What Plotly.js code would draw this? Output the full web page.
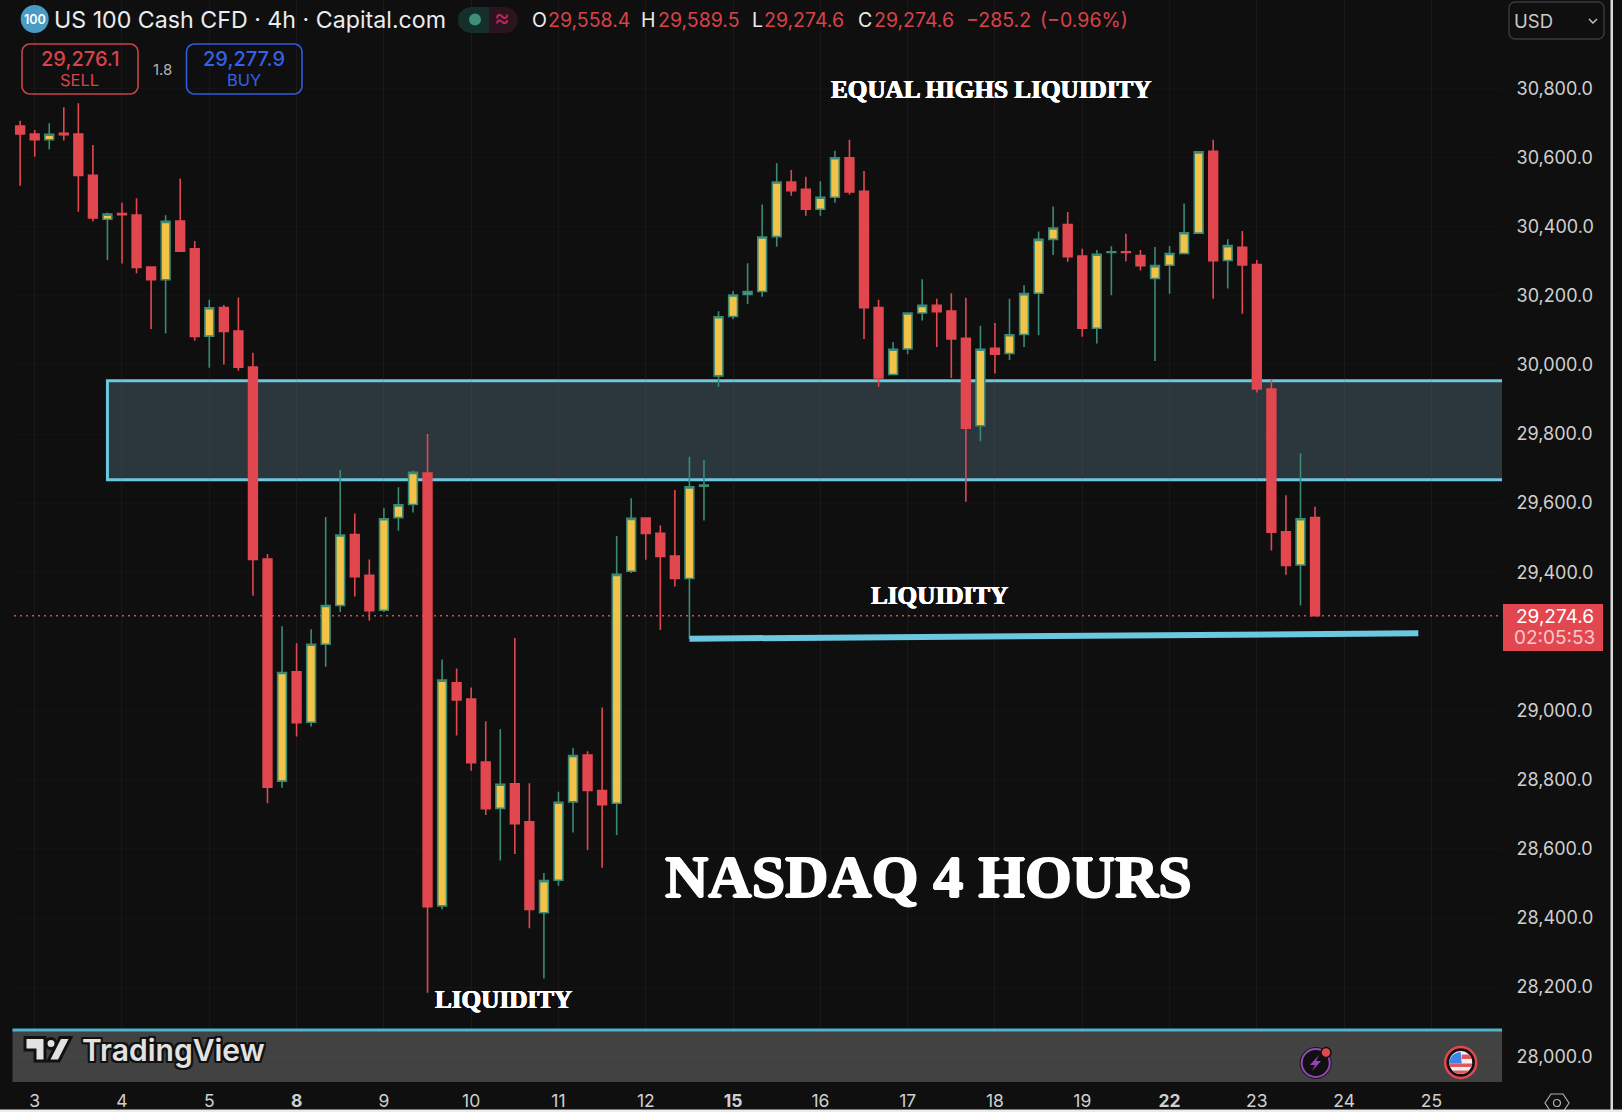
<!DOCTYPE html>
<html><head><meta charset="utf-8">
<script src="https://cdn.plot.ly/plotly-3.0.1.min.js"></script>
<style>html,body{margin:0;padding:0;background:#0f0f10;overflow:hidden}#chart{width:1622px;height:1112px}</style>
</head><body><div id="chart"></div>
<script>
// ---- chart values ----
var opens = [30691,30668,30651,30670,30668,30548,30421,30438,30433,30283,30246,30416,30336,30083,30166,30098,29994,29438,28796,29112,28966,29192,29304,29509,29391,29290,29558,29596,29687,28435,29080,29033,28851,28717,28788,28678,28415,28509,28736,28871,28769,28732,29403,29557,29513,29447,29382,29649,29968,30140,30204,30212,30371,30529,30508,30450,30485,30599,30502,30166,29972,30046,30150,30172,30156,30077,29824,30048,30033,30088,30207,30363,30406,30315,30106,30325,30327,30316,30250,30288,30322,30381,30618,30302,30340,30290,29930,29517,29421,29558.4];
var highs = [30706,30679,30699,30745,30757,30636,30441,30469,30482,30285,30433,30539,30358,30188,30173,30195,30035,29453,29244,29195,29235,29560,29696,29570,29437,29586,29646,29694,29800,29148,29122,29067,28969,28946,29210,28790,28530,28765,28892,28882,29009,29505,29614,29559,29535,29638,29734,29725,30155,30214,30294,30464,30583,30564,30544,30531,30619,30651,30561,30188,30066,30152,30248,30191,30207,30194,30113,30121,30191,30230,30386,30458,30442,30336,30332,30343,30379,30332,30341,30344,30467,30618,30651,30363,30387,30303,29958,29623,29744,29589.5];
var lows = [30518,30602,30623,30649,30443,30415,30303,30293,30265,30104,30091,30327,30070,29992,30001,29983,29332,28732,28777,28925,28954,29127,29285,29330,29260,29285,29520,29573,28184,28425,28928,28826,28698,28566,28585,28370,28225,28493,28647,28597,28545,28640,29398,29436,29233,29359,29208,29550,29937,30132,30176,30197,30342,30489,30431,30431,30469,30493,30075,29937,29971,30031,30128,30052,29962,29604,29779,29975,30014,30052,30086,30318,30298,30081,30062,30201,30299,30273,30011,30206,30321,30380,30191,30221,30148,29920,29463,29393,29304,29274.6];
var closes = [30668,30651,30667,30666,30548,30425,30436,30434,30282,30246,30415,30329,30082,30165,30097,29993,29437,28778,29110,28965,29192,29304,29508,29387,29289,29555,29595,29689,28433,29088,29031,28849,28716,28787,28673,28425,28508,28735,28870,28769,28728,29394,29556,29512,29446,29382,29647,29652,30139,30202,30212,30370,30529,30504,30450,30485,30599,30500,30165,29962,30045,30150,30172,30154,30075,29817,30045,30031,30087,30206,30363,30396,30313,30106,30320,30327,30325,30287,30287,30322,30382,30616,30301,30345,30289,29930,29516,29420,29555,29274.6];
var firstCandle = -1;
var xTickVals = [0,6,12,18,24,30,36,42,48,54,60,66,72,78,84,90,96];
var xTickText = ['3','4','5','<b>8</b>','9','10','11','12','<b>15</b>','16','17','18','19','<b>22</b>','23','24','25'];
var yTickVals = [28000,28200,28400,28600,28800,29000,29400,29600,29800,30000,30200,30400,30600,30800];
var zoneTop = 29954, zoneBottom = 29668, zoneStart = 5;
var lineStart = [45,29208], lineEnd = [95.1,29223.5];
var lastPrice = 29274.6;
var xRange = [-1.56,100.85], yRange = [27925.6,31055.4];

// ---- palette ----
var BG='#0f0f10', RED='#e2474f', TXTRED='#d8434a', GREEN='#3a8a76', YEL='#f3c348', CYAN='#6cc8de', TICK='#cfcfcf';
var W=1622,H=1112,L=12,R=1502,B=1082;
function px(x){return (x-L)/(R-L);} function py(y){return 1-y/B;}
function P(pts,close){return pts.map(function(p,i){return (i?'L':'M')+px(p[0])+','+py(p[1]);}).join(' ')+(close?' Z':'');}
var xs = opens.map(function(_,i){return firstCandle+i;});

var ann=[];
function T(text,x,y,size,color,anchor,family,extra){
  var f={size:size,color:color,family:family||'Inter, Roboto, sans-serif'};
  if(extra) for(var k in extra) f[k]=extra[k];
  ann.push({text:text,x:px(x),y:py(y),xref:'paper',yref:'paper',xanchor:anchor||'left',yanchor:'middle',showarrow:false,font:f,align:'center',borderpad:0});
}
var SERIF='"Liberation Serif", serif';
var THICK={shadow:'0.5px 0 0 #fff,-0.5px 0 0 #fff,0 0.4px 0 #fff,0 -0.4px 0 #fff'};
var THICKER={shadow:'1px 0 0 #fff,-1px 0 0 #fff,0 0.7px 0 #fff,0 -0.7px 0 #fff'};
T('<b>NASDAQ 4 HOURS</b>',928,877,60,'#ffffff','center',SERIF,THICKER);
T('<b>EQUAL HIGHS LIQUIDITY</b>',991.5,89,25.2,'#ffffff','center',SERIF,THICK);
T('<b>LIQUIDITY</b>',939,595,25.2,'#ffffff','center',SERIF,THICK);
T('<b>LIQUIDITY</b>',503,999,25.2,'#ffffff','center',SERIF,THICK);

T('US 100 Cash CFD · 4h · Capital.com',53,20,23.2,'#ececec');
T('100',34.7,19,12.5,'#ffffff','center',null,{weight:600});
T('≈',502,18,24,'#b8285f','center');
T('O',530.5,20,19.5,'#ececec'); T('29,558.4',547,20,19.5,TXTRED);
T('H',640,20,19.5,'#ececec');   T('29,589.5',657,20,19.5,TXTRED);
T('L',750.5,20,19.5,'#ececec'); T('29,274.6',763,20,19.5,TXTRED);
T('C',856.5,20,19.5,'#ececec'); T('29,274.6',872.5,20,19.5,TXTRED);
T('−285.2',965,20,19.5,TXTRED); T('(−0.96%)',1039,20,19.5,TXTRED);
T('29,276.1',79.5,59,20,TXTRED,'center',null,{weight:500}); T('SELL',79.5,80,16.5,TXTRED,'center');
T('1.8',162,69,15,'#b5b5b5','center');
T('29,277.9',244,59,20,'#3560ea','center',null,{weight:500}); T('BUY',244,80,16.5,'#3560ea','center');
T('USD',1513,21,18.5,'#c9c9c9');
T('29,274.6',1555,616.5,19,'#ffffff','center'); T('02:05:53',1555,637,19,'#f6c9cc','center');
T('TradingView',81,1050,30,'#e2e2e2','left',null,{weight:600,shadow:'2px 0 0 #111,-2px 0 0 #111,0 2px 0 #111,0 -2px 0 #111,2px 2px 0 #111,-2px -2px 0 #111,2px -2px 0 #111,-2px 2px 0 #111'});

var shapes=[];
function rect(x0,y0,x1,y1,fill,line,lw,layer){shapes.push({type:'rect',xref:'paper',yref:'paper',x0:px(x0),x1:px(x1),y0:py(y0),y1:py(y1),fillcolor:fill,line:{color:line||'rgba(0,0,0,0)',width:lw||0},layer:layer||'above'});}
function circ(cx,cy,r,fill,line,lw){shapes.push({type:'circle',xref:'paper',yref:'paper',x0:px(cx-r),x1:px(cx+r),y0:py(cy-r),y1:py(cy+r),fillcolor:fill,line:{color:line||'rgba(0,0,0,0)',width:lw||0},layer:'above'});}
function path(pts,fill,line,lw,closed){shapes.push({type:'path',xref:'paper',yref:'paper',path:P(pts,closed!==false),fillcolor:fill||'rgba(0,0,0,0)',line:{color:line||'rgba(0,0,0,0)',width:lw||0},layer:'above'});}
function rrect(x0,y0,x1,y1,r,line,lw,fill){
  var pts=[],n=6,corners=[[x1-r,y0+r,-90],[x1-r,y1-r,0],[x0+r,y1-r,90],[x0+r,y0+r,180]];
  corners.forEach(function(c){for(var i=0;i<=n;i++){var a=(c[2]+i*90/n)*Math.PI/180;pts.push([c[0]+r*Math.cos(a),c[1]+r*Math.sin(a)]);}});
  path(pts,fill,line,lw);
}
// zone
shapes.push({type:'rect',xref:'x',yref:'y',x0:zoneStart,x1:xRange[1],y0:zoneBottom,y1:zoneTop,fillcolor:'rgba(72,95,103,0.5)',line:{width:0},layer:'below'});
shapes.push({type:'path',xref:'x',yref:'y',path:'M'+xRange[1]+','+zoneTop+' L'+zoneStart+','+zoneTop+' L'+zoneStart+','+zoneBottom+' L'+xRange[1]+','+zoneBottom,line:{color:CYAN,width:3},layer:'below'});
// last price dotted line
shapes.push({type:'line',xref:'paper',yref:'y',x0:px(14),x1:1,y0:lastPrice,y1:lastPrice,line:{color:RED,width:1.5,dash:'2px,4px'},layer:'below'});
// liquidity line
shapes.push({type:'line',xref:'x',yref:'y',x0:lineStart[0],x1:lineEnd[0],y0:lineStart[1],y1:lineEnd[1],line:{color:CYAN,width:6},layer:'above'});
// bottom band
rect(12.5,1030,1502,1082,'#424242',null,0,'below');
rect(12.5,1028.5,1502,1031.5,'#4db4cc');
// price tag
rect(1503,604,1603,651,RED);
// header bits
circ(34.7,19,14,'#4a9bc4');
rrect(458,7,518,33,13,null,0,'#2a141e');
path([[489,7],[471,7],[464,9],[459,14],[458,20],[459,26],[464,31],[471,33],[489,33]],'#15302a');
circ(475,19.5,6,'#3d8f76');
rrect(22,44,138,94,8,'#c8424a',1.6);
rrect(186.5,44,302,94,8,'#2f5be0',1.6);
rrect(1509,2,1604,39,6,'#3a3a3c',1.4);
path([[1589,19],[1593,23],[1597,19]],null,'#c9c9c9',1.4,false);
// right & bottom window edges
rect(1610.5,0,1613,1112,'#dcdcdc');
// settings hexagon
path([[1545,1103],[1551,1094],[1563,1094],[1569,1103],[1563,1112],[1551,1112]],null,'#b0b0b0',1.2);
circ(1557,1103,3.5,null,'#b0b0b0',1.2);
rect(0,1109.5,1622,1112,'#ececec');
// TradingView mark
var mk='#e2e2e2', mo='#111111';
path([[25,1037.5],[45,1037.5],[45,1061],[35,1061],[35,1050],[25,1050]],mk,mo,3);
circ(51,1043.5,5,mk,mo,3);
path([[60,1037.5],[71,1037.5],[59,1061],[48,1061]],mk,mo,3);
// alert badge
circ(1315.7,1063,15,'#101010','#1a1a1a',2);
circ(1315.7,1063,14,'rgba(0,0,0,0)','#9645b5',2);
path([[1319,1055],[1310,1065],[1315,1065],[1312,1071],[1321,1061],[1316,1061]],'#9645b5');
circ(1326,1052.5,5,'#e2474f','#111',1.5);
// flag badge
var fx=1460.7, fy=1062.5, fr=11.5;
circ(fx,fy,15.5,'#111','#e2474f',2.5);
circ(fx,fy,fr,'#f2f2f2');
function band(y0,y1,xl){ // circle slice between two offsets
  var pts=[],i,s;
  for(i=0;i<=6;i++){s=y0+(y1-y0)*i/6;pts.push([fx+Math.sqrt(Math.max(fr*fr-s*s,0)),fy+s]);}
  for(i=6;i>=0;i--){s=y0+(y1-y0)*i/6;pts.push([xl===undefined?fx-Math.sqrt(Math.max(fr*fr-s*s,0)):xl,fy+s]);}
  return pts;
}
path(band(-8,-3.5,fx+1),'#e3565c'); path(band(1,4.5),'#e3565c'); path(band(8,11.5),'#e3565c');
var cant=[];for(var i=0;i<=8;i++){var a=(180+i*90/8)*Math.PI/180;cant.push([fx+fr*Math.cos(a),fy+1+fr*Math.sin(a)]);}cant.push([fx+1,fy+1]);
path(cant,'#3f85e8');

var data=[{type:'candlestick',x:xs,open:opens,high:highs,low:lows,close:closes,
  increasing:{line:{color:GREEN,width:1.6},fillcolor:YEL},
  decreasing:{line:{color:RED,width:1.6},fillcolor:RED},
  whiskerwidth:0,hoverinfo:'skip',showlegend:false}];

var layout={width:W,height:H,paper_bgcolor:BG,plot_bgcolor:BG,showlegend:false,boxmode:'overlay',boxgap:0.14,
  margin:{l:L,r:W-R,t:0,b:H-B,pad:0},
  xaxis:{type:'linear',range:xRange,rangeslider:{visible:false},tickmode:'array',tickvals:xTickVals,ticktext:xTickText,
    tickfont:{family:'Inter, Roboto, sans-serif',size:17.5,color:TICK},showgrid:true,gridcolor:'rgba(110,70,70,0.16)',gridwidth:1,zeroline:false,showline:false,ticks:'outside',ticklen:3,tickcolor:'rgba(0,0,0,0)'},
  yaxis:{side:'right',range:yRange,tickmode:'array',tickvals:yTickVals,tickformat:',.1f',
    tickfont:{family:'Inter, Roboto, sans-serif',size:18,color:TICK},showgrid:true,gridcolor:'rgba(255,255,255,0.018)',gridwidth:1,zeroline:false,showline:false,ticks:'outside',ticklen:10,tickcolor:'rgba(0,0,0,0)'},
  shapes:shapes,annotations:ann};
Plotly.newPlot('chart',data,layout,{staticPlot:true,displayModeBar:false});
</script></body></html>
